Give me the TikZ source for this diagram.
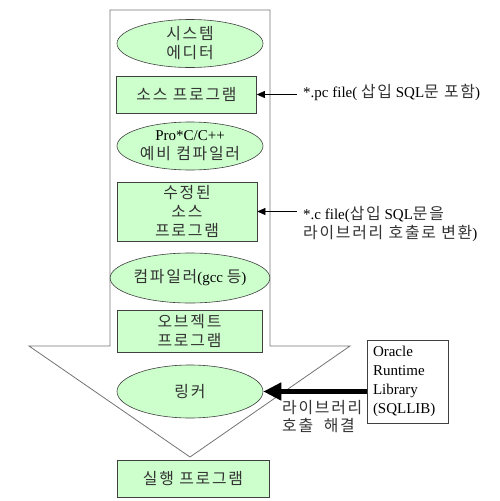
\documentclass[tikz,border=0pt]{standalone}
\usepackage{fontspec}
\setmainfont{Liberation Serif}
\newfontfamily\krfont[Scale=1.06, LetterSpace=11]{Noto Sans CJK KR}
\newcommand{\kr}[1]{{\krfont\color{black!80}#1}}
\usepackage{tikz}
\usetikzlibrary{positioning, shapes.geometric, arrows.meta}
\definecolor{stagegreen}{HTML}{CCFFCC}

\begin{document}
\begin{tikzpicture}[x=1pt, y=-1pt, font=\fontsize{15}{19}\selectfont,
  stage node/.style={ellipse, draw=black!75, fill=stagegreen, line width=0.6pt,
    minimum width=146pt, minimum height=48pt, inner sep=0pt, align=center},
  file node/.style={rectangle, draw=black!75, fill=stagegreen, line width=0.6pt,
    minimum width=140pt, minimum height=37pt, inner sep=0pt, align=center},
  note node/.style={inner sep=0pt, align=left, anchor=north west},
  thin arrow/.style={line width=0.6pt, -{Triangle[length=8pt,width=7pt]}}]

\useasboundingbox (0,0) rectangle (500,501);

% big flow arrow
\draw[black!55, line width=0.8pt] (110,10) -- (270,10) -- (270,346) -- (350,346)
  -- (190,457) -- (29,346) -- (110,346) -- cycle;

\node[stage node] (editor) at (190,43.5) {\kr{시스템}\\\kr{에디터}};
\node[file node] (src) at (186.5,94.5) {\kr{소스 프로그램}};
\node[stage node] (precomp) at (190,146) {Pro*C/C++\\\kr{예비 컴파일러}};
\node[file node, minimum height=59pt] (modsrc) at (187,211.5) {\kr{수정된}\\\kr{소스}\\\kr{프로그램}};
\node[stage node, minimum height=50pt] (comp) at (190,278) {\kr{컴파일러}(gcc \kr{등})};
\node[file node, minimum width=145pt, minimum height=42pt] (obj) at (189.5,331) {\kr{오브젝트}\\\kr{프로그램}};
\node[stage node, minimum height=53pt] (link) at (190,391.5) {\kr{링커}};
\node[file node, minimum width=152pt] (exe) at (193,478.5) {\kr{실행 프로그램}};

\node[rectangle, draw=black!75, line width=0.6pt, minimum width=81pt, minimum height=83pt,
  text width=69pt, inner sep=6pt, align=left] (lib) at (407.5,381.5)
  {Oracle\\Runtime\\Library\\(SQLLIB)};

\node[note node] (pcfile) at (303,84) {*.pc file( \kr{삽입} SQL\kr{문 포함})};
\node[note node] (cfile) at (303,206) {*.c file(\kr{삽입} SQL\kr{문을}\\ \kr{라이브러리 호출로 변환})};
\node[note node, font=\fontsize{15}{18}\selectfont] (resolve) at (282,400)
  {\kr{라이브러리}\\\kr{호출\ \ 해결}};

\draw[thin arrow, shorten <=6pt] (pcfile.west |- src.east) -- (src.east);
\draw[thin arrow, shorten <=6pt] (cfile.west |- modsrc.east) -- (modsrc.east);
\draw[line width=4.5pt, -{Triangle[length=18pt,width=17pt]}] (lib.west |- link.east) -- (link.east);

\end{tikzpicture}
\end{document}
